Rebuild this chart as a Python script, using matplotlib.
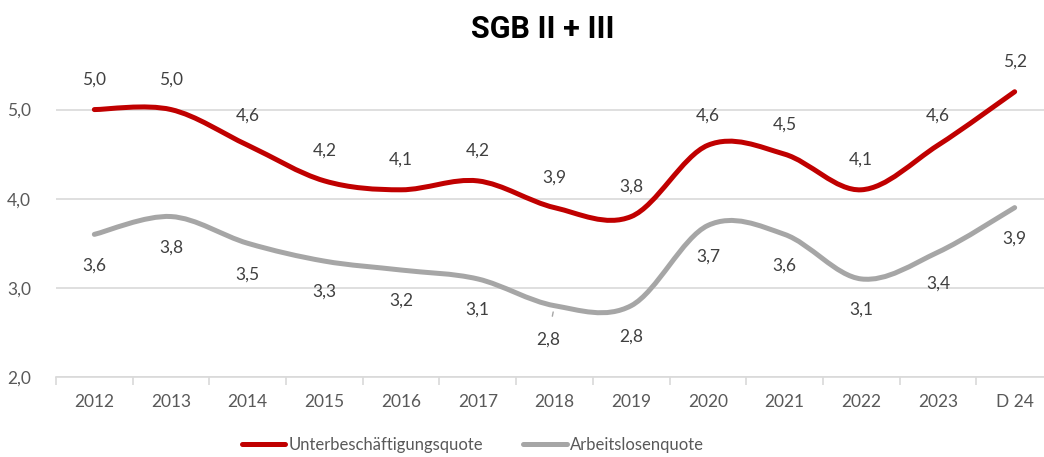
import numpy as np
import matplotlib.pyplot as plt
from matplotlib.path import Path
from matplotlib.patches import PathPatch
from matplotlib.lines import Line2D

# chart data
years = ["2012", "2013", "2014", "2015", "2016", "2017", "2018",
         "2019", "2020", "2021", "2022", "2023", "D 24"]
unterbeschaeftigung = [5.0, 5.0, 4.6, 4.2, 4.1, 4.2, 3.9, 3.8, 4.6, 4.5, 4.1, 4.6, 5.2]
arbeitslosen = [3.6, 3.8, 3.5, 3.3, 3.2, 3.1, 2.8, 2.8, 3.7, 3.6, 3.1, 3.4, 3.9]
y_ticks = [2.0, 3.0, 4.0, 5.0]

RED = '#C00000'
GREY = '#A6A6A6'
TXT = '#404040'
TICK = '#595959'
FONT = ['Lato', 'DejaVu Sans']


def smooth_path(xs, ys):
    """Excel-style smoothed line: cubic Bezier segments (Catmull-Rom)."""
    pts = np.column_stack([xs, ys]).astype(float)
    n = len(pts)
    verts = [pts[0]]
    codes = [Path.MOVETO]
    for i in range(n - 1):
        p0 = pts[i - 1] if i > 0 else pts[i]
        p1 = pts[i]
        p2 = pts[i + 1]
        p3 = pts[i + 2] if i + 2 < n else pts[i + 1]
        c1 = p1 + (p2 - p0) / 6.0
        c2 = p2 - (p3 - p1) / 6.0
        verts += [c1, c2, p2]
        codes += [Path.CURVE4] * 3
    return Path(verts, codes)


fig = plt.figure(figsize=(10.44, 4.57), dpi=100)
ax = fig.add_axes([56 / 1044, 80 / 457, 997 / 1044, 312 / 457])

x = np.arange(len(years))
ax.set_xlim(-0.5, len(years) - 0.5)
ax.set_ylim(2.0, 5.5)

for vals, col in [(arbeitslosen, GREY), (unterbeschaeftigung, RED)]:
    ax.add_patch(PathPatch(smooth_path(x, vals), facecolor='none', edgecolor=col,
                           lw=3.6, capstyle='round', joinstyle='round', zorder=3))

# value labels
for i, v in enumerate(unterbeschaeftigung):
    ax.annotate(f"{v:.1f}".replace('.', ','), (x[i], v), xytext=(0, 30),
                textcoords='offset pixels', ha='center', va='center',
                fontsize=12.5, color=TXT, family=FONT)
for i, v in enumerate(arbeitslosen):
    if years[i] == "2018":
        ax.annotate(f"{v:.1f}".replace('.', ','), (x[i] - 0.01, v - 0.04), xytext=(-6, -30),
                    textcoords='offset pixels', ha='center', va='center',
                    fontsize=12.5, color=TXT, family=FONT,
                    arrowprops=dict(arrowstyle='-', color=GREY, lw=1, shrinkA=9, shrinkB=2))
    else:
        ax.annotate(f"{v:.1f}".replace('.', ','), (x[i], v), xytext=(0, -31),
                    textcoords='offset pixels', ha='center', va='center',
                    fontsize=12.5, color=TXT, family=FONT)

# axes styling
ax.set_yticks(y_ticks)
ax.set_yticklabels([f"{t:.1f}".replace('.', ',') for t in y_ticks])
ax.set_xticks(x)
ax.set_xticklabels(years)
ax.set_xticks(np.arange(-0.5, len(years), 1.0), minor=True)
ax.tick_params(axis='y', length=0, pad=18, labelsize=12.5, labelcolor=TICK)
ax.tick_params(axis='x', which='major', length=0, pad=12, labelsize=12.5, labelcolor=TICK)
ax.tick_params(axis='x', which='minor', length=6, color='#D9D9D9', width=1.2)
for lab in ax.get_xticklabels() + ax.get_yticklabels():
    lab.set_family(FONT)
ax.grid(axis='y', color='#D9D9D9', lw=1.2)
ax.set_axisbelow(True)
for s in ['top', 'right', 'left']:
    ax.spines[s].set_visible(False)
ax.spines['bottom'].set_color('#D9D9D9')
ax.spines['bottom'].set_linewidth(1.2)

fig.text(0.52, 1 - 29 / 457, "SGB II + III", ha='center', va='center',
         fontsize=22, fontweight='bold', color='black',
         family=['Roboto', 'DejaVu Sans'])

handles = [Line2D([0], [0], color=RED, lw=3.6, solid_capstyle='round'),
           Line2D([0], [0], color=GREY, lw=3.6, solid_capstyle='round')]
fig.legend(handles, ["Unterbeschäftigungsquote", "Arbeitslosenquote"],
           loc='center', bbox_to_anchor=(473 / 1044, 1 - 445 / 457), ncol=2, frameon=False,
           handlelength=2.6, handletextpad=0.2, columnspacing=2.4,
           prop={'family': FONT, 'size': 12}, labelcolor=TICK)

fig.savefig('out.png', dpi=100)
